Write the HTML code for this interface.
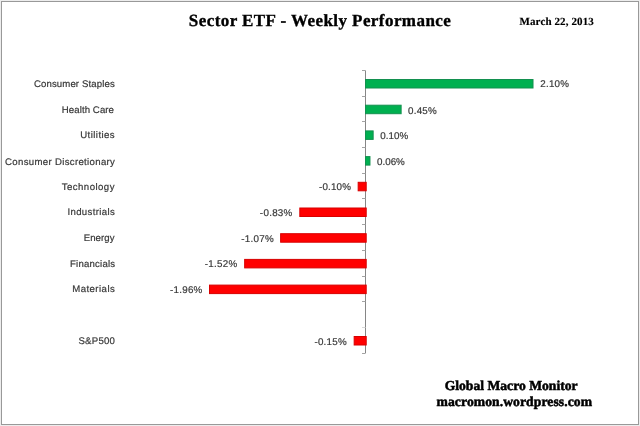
<!DOCTYPE html>
<html><head><meta charset="utf-8"><style>
html,body{margin:0;padding:0;background:#fff;}
body{width:640px;height:426px;overflow:hidden;font-family:"Liberation Sans",sans-serif;}
svg{display:block;will-change:transform;}
text{text-rendering:geometricPrecision;}
</style></head><body>
<svg width="640" height="426" viewBox="0 0 640 426">
<rect x="0" y="0" width="640" height="426" fill="#ededed"/>
<rect x="1.5" y="1.5" width="637" height="423" fill="#fff" stroke="#999" stroke-width="1"/>
<line x1="365.5" y1="70.5" x2="365.5" y2="353.20" stroke="#868686" stroke-width="1"/>
<line x1="362" y1="70.5" x2="365.5" y2="70.5" stroke="#a4a4a4" stroke-width="1"/>
<line x1="362" y1="96.5" x2="365.5" y2="96.5" stroke="#a4a4a4" stroke-width="1"/>
<line x1="362" y1="121.5" x2="365.5" y2="121.5" stroke="#a4a4a4" stroke-width="1"/>
<line x1="362" y1="147.5" x2="365.5" y2="147.5" stroke="#a4a4a4" stroke-width="1"/>
<line x1="362" y1="173.5" x2="365.5" y2="173.5" stroke="#a4a4a4" stroke-width="1"/>
<line x1="362" y1="198.5" x2="365.5" y2="198.5" stroke="#a4a4a4" stroke-width="1"/>
<line x1="362" y1="224.5" x2="365.5" y2="224.5" stroke="#a4a4a4" stroke-width="1"/>
<line x1="362" y1="250.5" x2="365.5" y2="250.5" stroke="#a4a4a4" stroke-width="1"/>
<line x1="362" y1="276.5" x2="365.5" y2="276.5" stroke="#a4a4a4" stroke-width="1"/>
<line x1="362" y1="301.5" x2="365.5" y2="301.5" stroke="#a4a4a4" stroke-width="1"/>
<line x1="362" y1="327.5" x2="365.5" y2="327.5" stroke="#d8d8d8" stroke-width="1"/>
<line x1="362" y1="353.5" x2="365.5" y2="353.5" stroke="#a4a4a4" stroke-width="1"/>
<rect x="365.50" y="79.50" width="167.51" height="8.5" fill="#00B050" stroke="#13904f" stroke-width="1"/>
<rect x="365.50" y="105.20" width="35.63" height="8.5" fill="#00B050" stroke="#13904f" stroke-width="1"/>
<rect x="365.50" y="130.90" width="7.65" height="8.5" fill="#00B050" stroke="#13904f" stroke-width="1"/>
<rect x="365.50" y="156.60" width="4.46" height="8.5" fill="#00B050" stroke="#13904f" stroke-width="1"/>
<rect x="358.17" y="182.30" width="8.03" height="8.5" fill="#FF0000" stroke="#d80000" stroke-width="1"/>
<rect x="299.82" y="208.00" width="66.38" height="8.5" fill="#FF0000" stroke="#d80000" stroke-width="1"/>
<rect x="280.63" y="233.70" width="85.57" height="8.5" fill="#FF0000" stroke="#d80000" stroke-width="1"/>
<rect x="244.67" y="259.40" width="121.53" height="8.5" fill="#FF0000" stroke="#d80000" stroke-width="1"/>
<rect x="209.50" y="285.10" width="156.70" height="8.5" fill="#FF0000" stroke="#d80000" stroke-width="1"/>
<rect x="354.17" y="336.50" width="12.03" height="8.5" fill="#FF0000" stroke="#d80000" stroke-width="1"/>
<text id="title" stroke="#000" stroke-width="0.35" x="188.77" y="25.80" text-anchor="start" font-family="Liberation Serif" font-weight="bold" font-size="17" fill="#000" textLength="262.05" lengthAdjust="spacing">Sector ETF - Weekly Performance</text>
<text id="date" stroke="#000" stroke-width="0.15" x="519.50" y="25.20" text-anchor="start" font-family="Liberation Serif" font-weight="bold" font-size="11" fill="#000" textLength="74.29" lengthAdjust="spacing">March 22, 2013</text>
<text id="foot1" stroke="#000" stroke-width="0.5" x="444.65" y="389.60" text-anchor="start" font-family="Liberation Serif" font-weight="bold" font-size="13.6" fill="#000" textLength="132.93" lengthAdjust="spacing">Global Macro Monitor</text>
<text id="foot2" stroke="#000" stroke-width="0.5" x="436.58" y="405.80" text-anchor="start" font-family="Liberation Serif" font-weight="bold" font-size="13.6" fill="#000" textLength="155.43" lengthAdjust="spacing">macromon.wordpress.com</text>
<text id="cat0" stroke="#383838" stroke-width="0.2" x="114.78" y="87.05" text-anchor="end" font-family="Liberation Sans" font-weight="normal" font-size="9.6" fill="#383838" textLength="80.88" lengthAdjust="spacing">Consumer Staples</text>
<text id="val0" stroke="#383838" stroke-width="0.2" x="540.26" y="86.75" text-anchor="start" font-family="Liberation Sans" font-weight="normal" font-size="9.8" fill="#383838" textLength="28.70" lengthAdjust="spacing">2.10%</text>
<text id="cat1" stroke="#383838" stroke-width="0.2" x="113.95" y="112.71" text-anchor="end" font-family="Liberation Sans" font-weight="normal" font-size="9.6" fill="#383838" textLength="52.15" lengthAdjust="spacing">Health Care</text>
<text id="val1" stroke="#383838" stroke-width="0.2" x="408.11" y="114.25" text-anchor="start" font-family="Liberation Sans" font-weight="normal" font-size="9.8" fill="#383838" textLength="28.60" lengthAdjust="spacing">0.45%</text>
<text id="cat2" stroke="#383838" stroke-width="0.2" x="114.65" y="138.37" text-anchor="end" font-family="Liberation Sans" font-weight="normal" font-size="9.6" fill="#383838" textLength="34.46" lengthAdjust="spacing">Utilities</text>
<text id="val2" stroke="#383838" stroke-width="0.2" x="380.37" y="138.95" text-anchor="start" font-family="Liberation Sans" font-weight="normal" font-size="9.8" fill="#383838">0.10%</text>
<text id="cat3" stroke="#383838" stroke-width="0.2" x="114.89" y="164.53" text-anchor="end" font-family="Liberation Sans" font-weight="normal" font-size="9.6" fill="#383838" textLength="109.84" lengthAdjust="spacing">Consumer Discretionary</text>
<text id="val3" stroke="#383838" stroke-width="0.2" x="377.04" y="164.65" text-anchor="start" font-family="Liberation Sans" font-weight="normal" font-size="9.8" fill="#383838">0.06%</text>
<text id="cat4" stroke="#383838" stroke-width="0.2" x="114.47" y="189.69" text-anchor="end" font-family="Liberation Sans" font-weight="normal" font-size="9.6" fill="#383838" textLength="52.76" lengthAdjust="spacing">Technology</text>
<text id="val4" stroke="#383838" stroke-width="0.2" x="350.86" y="190.35" text-anchor="end" font-family="Liberation Sans" font-weight="normal" font-size="9.8" fill="#383838" textLength="31.74" lengthAdjust="spacing">-0.10%</text>
<text id="cat5" stroke="#383838" stroke-width="0.2" x="114.78" y="215.35" text-anchor="end" font-family="Liberation Sans" font-weight="normal" font-size="9.6" fill="#383838" textLength="47.33" lengthAdjust="spacing">Industrials</text>
<text id="val5" stroke="#383838" stroke-width="0.2" x="292.30" y="216.05" text-anchor="end" font-family="Liberation Sans" font-weight="normal" font-size="9.8" fill="#383838" textLength="32.43" lengthAdjust="spacing">-0.83%</text>
<text id="cat6" stroke="#383838" stroke-width="0.2" x="114.53" y="241.01" text-anchor="end" font-family="Liberation Sans" font-weight="normal" font-size="9.6" fill="#383838" textLength="30.84" lengthAdjust="spacing">Energy</text>
<text id="val6" stroke="#383838" stroke-width="0.2" x="273.73" y="241.75" text-anchor="end" font-family="Liberation Sans" font-weight="normal" font-size="9.8" fill="#383838" textLength="32.39" lengthAdjust="spacing">-1.07%</text>
<text id="cat7" stroke="#383838" stroke-width="0.2" x="115.07" y="266.67" text-anchor="end" font-family="Liberation Sans" font-weight="normal" font-size="9.6" fill="#383838" textLength="45.05" lengthAdjust="spacing">Financials</text>
<text id="val7" stroke="#383838" stroke-width="0.2" x="237.32" y="267.45" text-anchor="end" font-family="Liberation Sans" font-weight="normal" font-size="9.8" fill="#383838" textLength="32.52" lengthAdjust="spacing">-1.52%</text>
<text id="cat8" stroke="#383838" stroke-width="0.2" x="114.78" y="292.33" text-anchor="end" font-family="Liberation Sans" font-weight="normal" font-size="9.6" fill="#383838" textLength="42.58" lengthAdjust="spacing">Materials</text>
<text id="val8" stroke="#383838" stroke-width="0.2" x="202.31" y="293.15" text-anchor="end" font-family="Liberation Sans" font-weight="normal" font-size="9.8" fill="#383838" textLength="32.27" lengthAdjust="spacing">-1.96%</text>
<text id="cat10" stroke="#383838" stroke-width="0.2" x="114.90" y="343.65" text-anchor="end" font-family="Liberation Sans" font-weight="normal" font-size="9.6" fill="#383838" textLength="36.46" lengthAdjust="spacing">S&amp;P500</text>
<text id="val10" stroke="#383838" stroke-width="0.2" x="346.74" y="344.55" text-anchor="end" font-family="Liberation Sans" font-weight="normal" font-size="9.8" fill="#383838" textLength="32.35" lengthAdjust="spacing">-0.15%</text>
</svg>
</body></html>
